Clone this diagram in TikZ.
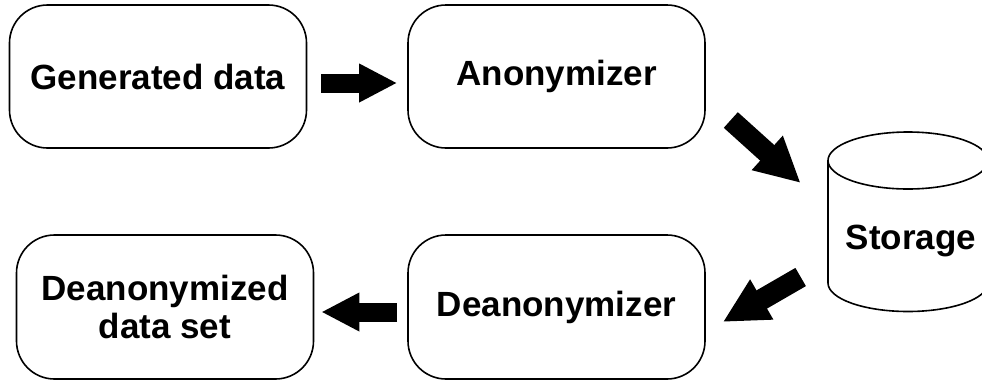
\documentclass[tikz,border=0pt]{standalone}
\usepackage{fontspec}
\setmainfont{Liberation Sans}
\usetikzlibrary{arrows.meta,calc}
\begin{document}
\begin{tikzpicture}[x=1pt,y=-1pt,
  box/.style={draw=black, line width=1.6pt, rounded corners=38pt,
    minimum width=297pt, minimum height=143pt, align=center,
    font=\fontsize{35}{38}\selectfont\bfseries, inner sep=0pt},
  harrow/.style={line width=19pt, -{Triangle[length=38pt,width=36pt]}},
  darrow/.style={line width=21pt, -{Triangle[length=45pt,width=43pt]}},
  cyl/.style={draw=black, line width=1.6pt}]
\useasboundingbox (0,0) rectangle (982,381);
\fill[white] (0,0) rectangle (982,381);

% process boxes
\node[box] (gen)   at (158,76.5)   {Generated data};
\node[box] (anon)  at (556.5,76.5) {Anonymizer};
\node[box, minimum height=144pt] (deanon) at (556.5,307) {Deanonymizer};
\node[box, minimum height=144pt] (result) at (165,307)   {Deanonymized\\data set};

% storage cylinder
\draw[cyl] (828,160.5) -- (828,283)
  arc[start angle=180, end angle=0, x radius=80, y radius=28.5] -- (988,160.5);
\draw[cyl] (908,160.5) ellipse [x radius=80, y radius=28.5];
\node[font=\fontsize{35}{38}\selectfont\bfseries, inner sep=0pt] (store) at (911,241) {Storage};

% arrow end points
\coordinate (a1s) at ($(gen.east)+(14,6.5)$);
\coordinate (a1e) at ($(anon.west)+(-10,6.5)$);
\coordinate (a2s) at ($(anon.east)+(25,43.5)$);
\coordinate (a2e) at ($(store.west)+(-45,-58)$);
\coordinate (a3s) at ($(store.west)+(-45,36)$);
\coordinate (a3e) at ($(deanon.east)+(17,15)$);
\coordinate (a4s) at ($(deanon.west)+(-10,5)$);
\coordinate (a4e) at ($(result.east)+(7,5)$);

% flow arrows
\draw[harrow] (a1s) -- (a1e);
\draw[darrow] (a2s) -- (a2e);
\draw[darrow] (a3s) -- (a3e);
\draw[harrow] (a4s) -- (a4e);
\end{tikzpicture}
\end{document}
